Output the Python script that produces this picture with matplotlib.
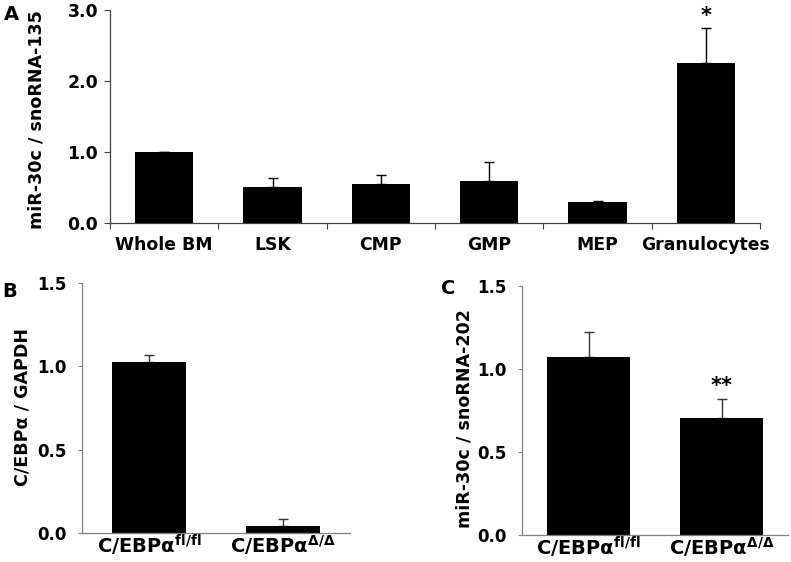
import numpy as np
import matplotlib
matplotlib.use("Agg")
import matplotlib.pyplot as plt

plt.rcParams['font.family'] = ['DejaVu Sans']
plt.rcParams['font.weight'] = 'bold'
plt.rcParams['mathtext.fontset'] = 'dejavusans'
plt.rcParams['mathtext.default'] = 'bf'

# Panel A data
a_categories = ["Whole BM", "LSK", "CMP", "GMP", "MEP", "Granulocytes"]
a_values = [1.0, 0.51, 0.55, 0.59, 0.29, 2.25]
a_errors = [0.0, 0.12, 0.13, 0.27, 0.02, 0.50]
a_ticks = [0.0, 1.0, 2.0, 3.0]

# Panel B data
b_categories = [r"C/EBPα$^{\mathbf{fl/fl}}$", r"C/EBPα$^{\mathbf{\Delta/\Delta}}$"]
b_values = [1.025, 0.04]
b_errors = [0.045, 0.045]

# Panel C data
c_categories = [r"C/EBPα$^{\mathbf{fl/fl}}$", r"C/EBPα$^{\mathbf{\Delta/\Delta}}$"]
c_values = [1.07, 0.705]
c_errors = [0.155, 0.115]
bc_ticks = [0.0, 0.5, 1.0, 1.5]

W, H = 791, 562
fig = plt.figure(figsize=(W / 100, H / 100), dpi=100)


def ax_rect(l, r, t, b):
    return [l / W, 1 - b / H, (r - l) / W, (b - t) / H]


# ---------- Panel A ----------
axA = fig.add_axes(ax_rect(110, 760, 10, 223))
xa = np.arange(len(a_categories))
axA.bar(xa, a_values, width=0.54, color='black', zorder=2)
axA.errorbar(xa, a_values, yerr=[np.zeros(len(a_errors)), a_errors], fmt='none',
             ecolor='black', elinewidth=1, capsize=3.5, capthick=1, zorder=1)
axA.set_xlim(-0.5, len(a_categories) - 0.5)
axA.set_ylim(0, 3.0)
axA.set_yticks(a_ticks)
axA.set_yticklabels([f"{v:.1f}" for v in a_ticks], fontsize=12.5, fontweight='bold')
axA.set_xticks(xa)
axA.set_xticklabels(a_categories, fontsize=12.4, fontweight='bold')
axA.set_xticks(np.arange(-0.5, len(a_categories)), minor=True)
axA.tick_params(axis='x', which='major', length=0, pad=9)
axA.tick_params(axis='x', which='minor', length=4.5, width=0.8, color='#404040', direction='out')
axA.tick_params(axis='y', length=4.5, width=0.8, color='#404040', pad=4)
for s in ['top', 'right']:
    axA.spines[s].set_visible(False)
for s in ['left', 'bottom']:
    axA.spines[s].set_color('#404040')
    axA.spines[s].set_linewidth(0.9)
axA.text(xa[-1], a_values[-1] + a_errors[-1] + 0.03, "*", ha='center', va='bottom',
         fontsize=15, fontweight='bold')
fig.text(37 / W, 1 - 120 / H, "miR-30c / snoRNA-135", rotation=90, ha='center', va='center',
         fontsize=12.6, fontweight='bold')
fig.text(4 / W, 1 - 15 / H, "A", ha='left', va='center', fontsize=14, fontweight='bold')


def panel(rect, cats, vals, errs, width, ylabel, label_x, label_y):
    ax = fig.add_axes(rect)
    x = np.arange(len(cats))
    ax.bar(x, vals, width=width, color='black', zorder=2)
    ax.errorbar(x, vals, yerr=[np.zeros(len(errs)), errs], fmt='none', ecolor='#333333',
                elinewidth=1, capsize=3.5, capthick=1, zorder=1)
    ax.set_xlim(-0.5, len(cats) - 0.5)
    ax.set_ylim(0, 1.5)
    ax.set_yticks(bc_ticks)
    ax.set_yticklabels([f"{v:.1f}" for v in bc_ticks], fontsize=12, fontweight='bold')
    ax.set_xticks(x)
    ax.set_xticklabels(cats, fontsize=14, fontweight='bold')
    ax.tick_params(axis='x', length=0, pad=0)
    ax.tick_params(axis='y', length=3, width=0.8, color='#808080', pad=8)
    for s in ['top', 'right']:
        ax.spines[s].set_visible(False)
    for s in ['left', 'bottom']:
        ax.spines[s].set_color('#808080')
        ax.spines[s].set_linewidth(0.9)
    fig.text(label_x / W, 1 - label_y / H, ylabel, rotation=90, ha='center', va='center',
             fontsize=12.6, fontweight='bold')
    return ax


axB = panel(ax_rect(82, 350, 283, 533), b_categories, b_values, b_errors, 0.55,
            "C/EBPα / GAPDH", 23, 407)
fig.text(2 / W, 1 - 291 / H, "B", ha='left', va='center', fontsize=14, fontweight='bold')

axC = panel(ax_rect(522, 788, 286, 535), c_categories, c_values, c_errors, 0.63,
            "miR-30c / snoRNA-202", 465, 419)
axC.text(1, 0.9, "**", ha='center', va='center', fontsize=15, fontweight='bold')
fig.text(441 / W, 1 - 288 / H, "C", ha='left', va='center', fontsize=14, fontweight='bold')

fig.savefig("out.png", dpi=100)
